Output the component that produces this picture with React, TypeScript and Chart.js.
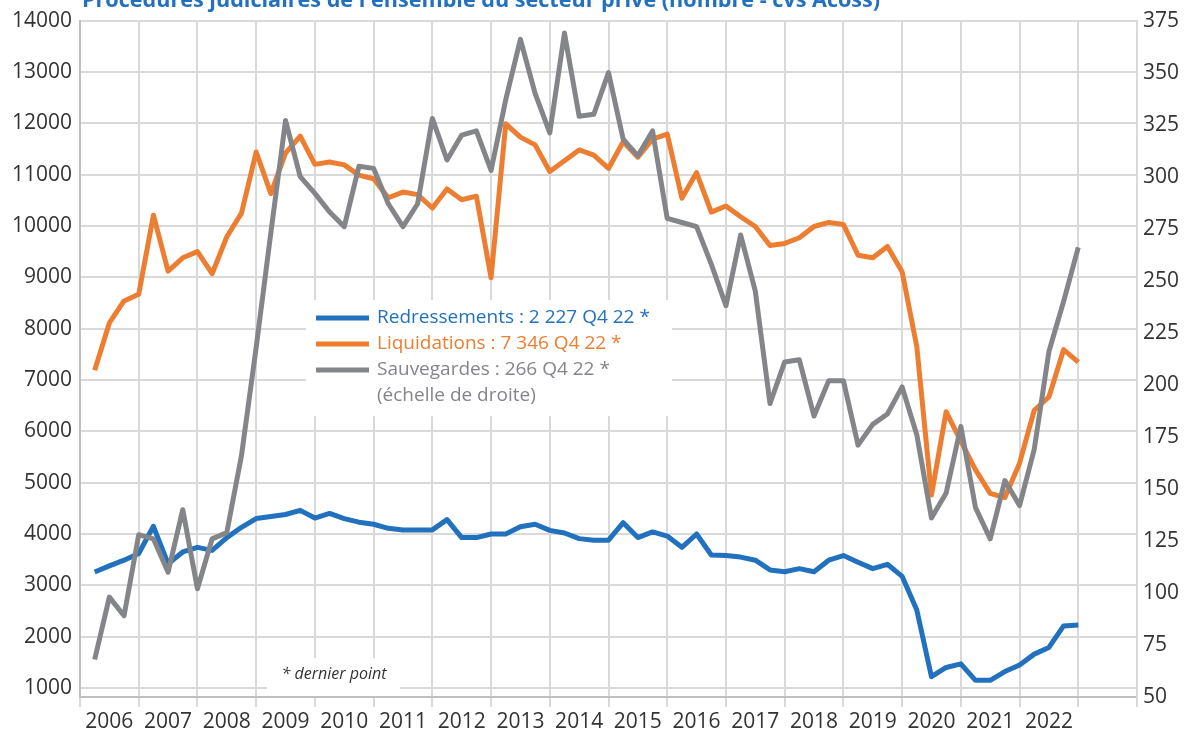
import React, { useEffect, useRef } from 'react';
import { Chart, registerables } from 'chart.js';

Chart.register(...registerables);

// ---- Data (quarterly, 2006 Q1 -> 2022 Q4) ----
const years = ['2006', '2007', '2008', '2009', '2010', '2011', '2012', '2013', '2014', '2015', '2016', '2017', '2018', '2019', '2020', '2021', '2022'];

const redressements = [
  3260, 3380, 3490, 3620, 4150, 3420, 3650, 3740,
  3680, 3930, 4130, 4300, 4340, 4380, 4460, 4310,
  4400, 4300, 4230, 4190, 4110, 4080, 4080, 4080,
  4280, 3930, 3930, 4000, 4000, 4140, 4190, 4070,
  4020, 3910, 3880, 3880, 4220, 3930, 4040, 3960,
  3740, 4000, 3590, 3580, 3550, 3490, 3300, 3265,
  3325, 3265, 3490, 3580, 3450, 3325, 3410, 3175,
  2520, 1220, 1400, 1470, 1150, 1150, 1320, 1450,
  1660, 1790, 2210, 2227,
];

const liquidations = [
  7190, 8110, 8540, 8670, 10210, 9120, 9380, 9500,
  9070, 9790, 10250, 11440, 10630, 11420, 11750, 11200,
  11245, 11190, 10990, 10920, 10550, 10660, 10610, 10350,
  10720, 10510, 10580, 8990, 11990, 11730, 11580, 11060,
  11270, 11480, 11380, 11120, 11640, 11340, 11690, 11790,
  10540, 11040, 10270, 10390, 10180, 9990, 9620, 9660,
  9770, 9990, 10070, 10030, 9430, 9380, 9600, 9110,
  7650, 4760, 6380, 5810, 5250, 4790, 4710, 5380,
  6410, 6670, 7590, 7346,
];

const sauvegardes = [
  68, 98, 89, 128, 126, 110, 140, 102,
  126, 129, 166, 218, 273, 327, 300, 292,
  283, 276, 305, 304, 287, 276, 287, 328,
  308, 320, 322, 303, 337, 366, 340, 321,
  369, 329, 330, 350, 318, 310, 322, 280,
  278, 276, 258, 238, 272, 245, 191, 211,
  212, 185, 202, 202, 171, 181, 186, 199,
  176, 136, 148, 180, 141, 126, 154, 142,
  169, 216, 240, 266,
];

const leftTicks = [1000, 2000, 3000, 4000, 5000, 6000, 7000, 8000, 9000, 10000, 11000, 12000, 13000, 14000];
const rightTicks = [50, 75, 100, 125, 150, 175, 200, 225, 250, 275, 300, 325, 350, 375];

const TITLE = "Procédures judiciaires de l'ensemble du secteur privé (nombre - cvs Acoss)";
const legendLabels = [
  'Redressements : 2 227 Q4 22 *',
  'Liquidations : 7 346 Q4 22 *',
  'Sauvegardes : 266 Q4 22 *',
  '(échelle de droite)',
];
const NOTE = '* dernier point';

// ---- Styles ----
const BLUE = '#2171BE';
const ORANGE = '#ED7D31';
const GREY = '#848589';
const GRID = '#D9D9D9';
const AXIS = '#BFBFBF';
const TEXT = '#333333';
const FONT = '"Open Sans", "Noto Sans", sans-serif';

const overlayPlugin = {
  id: 'overlay',
  afterDatasetsDraw(chart: any) {
    const ctx = chart.ctx as CanvasRenderingContext2D;
    ctx.save();
    // title (cropped at top)
    ctx.font = `bold 21.6px ${FONT}`;
    ctx.fillStyle = BLUE;
    ctx.textAlign = 'left';
    ctx.textBaseline = 'alphabetic';
    ctx.fillText(TITLE, 82, 7);

    // legend box
    ctx.fillStyle = '#ffffff';
    ctx.fillRect(306, 300, 366, 116);
    const colors = [BLUE, ORANGE, GREY, GREY];
    const rowY = [318, 344, 370, 396];
    ctx.font = `19px ${FONT}`;
    ctx.textBaseline = 'middle';
    for (let i = 0; i < legendLabels.length; i++) {
      if (i < 3) {
        ctx.strokeStyle = colors[i];
        ctx.lineWidth = 5;
        ctx.beginPath();
        ctx.moveTo(316, rowY[i]);
        ctx.lineTo(369, rowY[i]);
        ctx.stroke();
      }
      ctx.fillStyle = colors[i];
      ctx.fillText(legendLabels[i], 377, rowY[i]);
    }

    // note box
    ctx.fillStyle = '#ffffff';
    ctx.fillRect(267, 658, 133, 38);
    ctx.font = `italic 16px ${FONT}`;
    ctx.fillStyle = TEXT;
    ctx.textAlign = 'center';
    ctx.fillText(NOTE, 334, 674);
    ctx.restore();
  },
};

export default function App() {
  const ref = useRef<HTMLCanvasElement>(null);

  useEffect(() => {
    document.body.style.margin = '0';
    const tickFont = { family: FONT, size: 21 };
    const chart = new Chart(ref.current as HTMLCanvasElement, {
      type: 'line',
      data: {
        datasets: [
          {
            label: 'Redressements',
            data: redressements.map((v, i) => ({ x: i + 1, y: v })),
            borderColor: BLUE,
            backgroundColor: BLUE,
            borderWidth: 5,
            pointRadius: 0,
            yAxisID: 'y',
            order: 2,
          },
          {
            label: 'Liquidations',
            data: liquidations.map((v, i) => ({ x: i + 1, y: v })),
            borderColor: ORANGE,
            backgroundColor: ORANGE,
            borderWidth: 5,
            pointRadius: 0,
            yAxisID: 'y',
            order: 1,
          },
          {
            label: 'Sauvegardes',
            data: sauvegardes.map((v, i) => ({ x: i + 1, y: v })),
            borderColor: GREY,
            backgroundColor: GREY,
            borderWidth: 5,
            pointRadius: 0,
            yAxisID: 'y1',
            order: 0,
          },
        ],
      },
      options: {
        animation: false,
        responsive: false,
        layout: { padding: { top: 18, left: 0, right: 0, bottom: 0 } },
        elements: { line: { tension: 0, borderJoinStyle: 'round', borderCapStyle: 'butt' } },
        plugins: { legend: { display: false }, tooltip: { enabled: false }, title: { display: false } },
        scales: {
          x: {
            type: 'linear',
            min: 0,
            max: 72,
            afterBuildTicks: (s: any) => {
              const t = [];
              for (let v = 0; v <= 72; v += 2) t.push({ value: v });
              s.ticks = t;
            },
            afterFit: (s: any) => { s.height = 39; },
            grid: {
              color: (c: any) => (c.tick && c.tick.value % 4 === 0 ? GRID : 'rgba(0,0,0,0)'),
              tickColor: (c: any) => (c.tick && c.tick.value % 4 === 0 ? GRID : 'rgba(0,0,0,0)'),
              lineWidth: 2,
              tickLength: 10,
              drawTicks: true,
            },
            border: { color: AXIS, width: 2 },
            ticks: {
              autoSkip: false,
              maxRotation: 0,
              padding: 2,
              color: TEXT,
              font: tickFont,
              callback: (v: any) => (v % 4 === 2 ? years[(v - 2) / 4] ?? '' : ''),
            },
          },
          y: {
            position: 'left',
            min: 825,
            max: 14000,
            afterBuildTicks: (s: any) => { s.ticks = leftTicks.map((v) => ({ value: v })); },
            afterFit: (s: any) => { s.width = 80; },
            grid: { color: GRID, lineWidth: 2, drawTicks: false },
            border: { color: AXIS, width: 2 },
            ticks: { padding: 8, color: TEXT, font: tickFont, callback: (v: any) => String(v) },
          },
          y1: {
            position: 'right',
            min: 50,
            max: 375,
            afterBuildTicks: (s: any) => { s.ticks = rightTicks.map((v) => ({ value: v })); },
            afterFit: (s: any) => { s.width = 58; },
            grid: { display: false, drawTicks: false },
            border: { display: true, color: GRID, width: 2 },
            ticks: { padding: 6, color: TEXT, font: tickFont, callback: (v: any) => String(v) },
          },
        },
      },
      plugins: [overlayPlugin],
    } as any);
    return () => chart.destroy();
  }, []);

  return (
    <div style={{ width: 1195, height: 736, background: '#ffffff' }}>
      <canvas ref={ref} width={1195} height={736} style={{ display: 'block' }} />
    </div>
  );
}
